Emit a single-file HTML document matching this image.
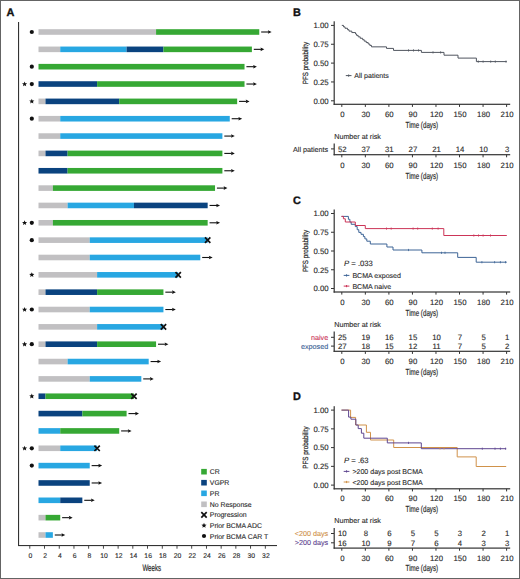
<!DOCTYPE html>
<html><head><meta charset="utf-8"><style>
html,body{margin:0;padding:0;background:#fff;}
body{width:520px;height:579px;overflow:hidden;}
svg{display:block;font-family:"Liberation Sans",sans-serif;text-rendering:geometricPrecision;}
</style></head><body>
<svg width="520" height="579" viewBox="0 0 520 579">
<rect width="520" height="579" fill="#fff"/>
<text x="6.4" y="15.8" font-size="10.9" font-weight="bold" fill="#111" stroke="#111" stroke-width="0.35">A</text>
<rect x="18" y="22" width="1.1" height="524" fill="#333333"/>
<rect x="18" y="545" width="259" height="1.1" fill="#333333"/>
<rect x="29.35" y="545.5" width="0.9" height="3.2" fill="#333333"/>
<text x="30.4" y="557.7" font-size="6.8" text-anchor="middle" fill="#2b2b2b" stroke="#2b2b2b" stroke-width="0.12">0</text>
<rect x="44.07" y="545.5" width="0.9" height="3.2" fill="#333333"/>
<text x="45.12" y="557.7" font-size="6.8" text-anchor="middle" fill="#2b2b2b" stroke="#2b2b2b" stroke-width="0.12">2</text>
<rect x="58.79" y="545.5" width="0.9" height="3.2" fill="#333333"/>
<text x="59.84" y="557.7" font-size="6.8" text-anchor="middle" fill="#2b2b2b" stroke="#2b2b2b" stroke-width="0.12">4</text>
<rect x="73.51" y="545.5" width="0.9" height="3.2" fill="#333333"/>
<text x="74.56" y="557.7" font-size="6.8" text-anchor="middle" fill="#2b2b2b" stroke="#2b2b2b" stroke-width="0.12">6</text>
<rect x="88.22" y="545.5" width="0.9" height="3.2" fill="#333333"/>
<text x="89.27" y="557.7" font-size="6.8" text-anchor="middle" fill="#2b2b2b" stroke="#2b2b2b" stroke-width="0.12">8</text>
<rect x="102.94" y="545.5" width="0.9" height="3.2" fill="#333333"/>
<text x="103.99" y="557.7" font-size="6.8" text-anchor="middle" fill="#2b2b2b" stroke="#2b2b2b" stroke-width="0.12">10</text>
<rect x="117.66" y="545.5" width="0.9" height="3.2" fill="#333333"/>
<text x="118.71" y="557.7" font-size="6.8" text-anchor="middle" fill="#2b2b2b" stroke="#2b2b2b" stroke-width="0.12">12</text>
<rect x="132.38" y="545.5" width="0.9" height="3.2" fill="#333333"/>
<text x="133.43" y="557.7" font-size="6.8" text-anchor="middle" fill="#2b2b2b" stroke="#2b2b2b" stroke-width="0.12">14</text>
<rect x="147.1" y="545.5" width="0.9" height="3.2" fill="#333333"/>
<text x="148.15" y="557.7" font-size="6.8" text-anchor="middle" fill="#2b2b2b" stroke="#2b2b2b" stroke-width="0.12">16</text>
<rect x="161.82" y="545.5" width="0.9" height="3.2" fill="#333333"/>
<text x="162.87" y="557.7" font-size="6.8" text-anchor="middle" fill="#2b2b2b" stroke="#2b2b2b" stroke-width="0.12">18</text>
<rect x="176.54" y="545.5" width="0.9" height="3.2" fill="#333333"/>
<text x="177.59" y="557.7" font-size="6.8" text-anchor="middle" fill="#2b2b2b" stroke="#2b2b2b" stroke-width="0.12">20</text>
<rect x="191.26" y="545.5" width="0.9" height="3.2" fill="#333333"/>
<text x="192.31" y="557.7" font-size="6.8" text-anchor="middle" fill="#2b2b2b" stroke="#2b2b2b" stroke-width="0.12">22</text>
<rect x="205.98" y="545.5" width="0.9" height="3.2" fill="#333333"/>
<text x="207.03" y="557.7" font-size="6.8" text-anchor="middle" fill="#2b2b2b" stroke="#2b2b2b" stroke-width="0.12">24</text>
<rect x="220.69" y="545.5" width="0.9" height="3.2" fill="#333333"/>
<text x="221.74" y="557.7" font-size="6.8" text-anchor="middle" fill="#2b2b2b" stroke="#2b2b2b" stroke-width="0.12">26</text>
<rect x="235.41" y="545.5" width="0.9" height="3.2" fill="#333333"/>
<text x="236.46" y="557.7" font-size="6.8" text-anchor="middle" fill="#2b2b2b" stroke="#2b2b2b" stroke-width="0.12">28</text>
<rect x="250.13" y="545.5" width="0.9" height="3.2" fill="#333333"/>
<text x="251.18" y="557.7" font-size="6.8" text-anchor="middle" fill="#2b2b2b" stroke="#2b2b2b" stroke-width="0.12">30</text>
<rect x="264.85" y="545.5" width="0.9" height="3.2" fill="#333333"/>
<text x="265.9" y="557.7" font-size="6.8" text-anchor="middle" fill="#2b2b2b" stroke="#2b2b2b" stroke-width="0.12">32</text>
<text x="0" y="0" font-size="9.4" fill="#2b2b2b" stroke="#2b2b2b" stroke-width="0.2" transform="translate(142.4 570.6) scale(0.655 1)">Weeks</text>
<rect x="38.5" y="29.2" width="117.57" height="5.6" fill="#c1c0c2"/>
<rect x="156.07" y="29.2" width="103.19" height="5.6" fill="#36a834"/>
<path d="M261.16 32H268.66" stroke="#111" stroke-width="1.1"/><path d="M267.86 30.2L271.66 32L267.86 33.8L268.46 32Z" fill="#111"/>
<circle cx="31.8" cy="32" r="2.1" fill="#111"/>
<rect x="38.5" y="46.55" width="21.74" height="5.6" fill="#c1c0c2"/>
<rect x="60.24" y="46.55" width="66.34" height="5.6" fill="#28a7e2"/>
<rect x="126.58" y="46.55" width="36.86" height="5.6" fill="#0a437f"/>
<rect x="163.44" y="46.55" width="88.45" height="5.6" fill="#36a834"/>
<path d="M253.79 49.34H261.29" stroke="#111" stroke-width="1.1"/><path d="M260.49 47.55L264.29 49.34L260.49 51.14L261.09 49.34Z" fill="#111"/>
<rect x="38.5" y="63.89" width="206.02" height="5.6" fill="#36a834"/>
<path d="M246.42 66.69H253.92" stroke="#111" stroke-width="1.1"/><path d="M253.12 64.89L256.92 66.69L253.12 68.49L253.72 66.69Z" fill="#111"/>
<circle cx="31.8" cy="66.69" r="2.1" fill="#111"/>
<rect x="38.5" y="81.23" width="58.6" height="5.6" fill="#0a437f"/>
<rect x="97.1" y="81.23" width="147.42" height="5.6" fill="#36a834"/>
<path d="M246.42 84.03H253.92" stroke="#111" stroke-width="1.1"/><path d="M253.12 82.23L256.92 84.03L253.12 85.83L253.72 84.03Z" fill="#111"/>
<polygon points="24.6,81.43 25.31,83.15 27.17,83.3 25.76,84.51 26.19,86.32 24.6,85.35 23.01,86.32 23.44,84.51 22.03,83.3 23.89,83.15" fill="#111"/>
<circle cx="31.8" cy="84.03" r="2.1" fill="#111"/>
<rect x="38.5" y="98.58" width="7" height="5.6" fill="#c1c0c2"/>
<rect x="45.5" y="98.58" width="73.71" height="5.6" fill="#0a437f"/>
<rect x="119.21" y="98.58" width="117.94" height="5.6" fill="#36a834"/>
<path d="M239.05 101.38H246.55" stroke="#111" stroke-width="1.1"/><path d="M245.75 99.58L249.55 101.38L245.75 103.18L246.35 101.38Z" fill="#111"/>
<polygon points="31.8,98.68 32.51,100.4 34.37,100.55 32.96,101.76 33.39,103.56 31.8,102.59 30.21,103.56 30.64,101.76 29.23,100.55 31.09,100.4" fill="#111"/>
<rect x="38.5" y="115.92" width="21.74" height="5.6" fill="#c1c0c2"/>
<rect x="60.24" y="115.92" width="169.53" height="5.6" fill="#28a7e2"/>
<path d="M231.68 118.72H239.18" stroke="#111" stroke-width="1.1"/><path d="M238.38 116.92L242.18 118.72L238.38 120.52L238.98 118.72Z" fill="#111"/>
<circle cx="31.8" cy="118.72" r="2.1" fill="#111"/>
<rect x="38.5" y="133.27" width="21.74" height="5.6" fill="#c1c0c2"/>
<rect x="60.24" y="133.27" width="162.16" height="5.6" fill="#28a7e2"/>
<path d="M224.31 136.07H231.81" stroke="#111" stroke-width="1.1"/><path d="M231 134.27L234.81 136.07L231 137.87L231.61 136.07Z" fill="#111"/>
<rect x="38.5" y="150.61" width="7" height="5.6" fill="#c1c0c2"/>
<rect x="45.5" y="150.61" width="22.11" height="5.6" fill="#0a437f"/>
<rect x="67.61" y="150.61" width="154.79" height="5.6" fill="#36a834"/>
<path d="M224.31 153.41H231.81" stroke="#111" stroke-width="1.1"/><path d="M231 151.61L234.81 153.41L231 155.22L231.61 153.41Z" fill="#111"/>
<rect x="38.5" y="167.96" width="29.11" height="5.6" fill="#0a437f"/>
<rect x="67.61" y="167.96" width="154.79" height="5.6" fill="#36a834"/>
<path d="M224.31 170.76H231.81" stroke="#111" stroke-width="1.1"/><path d="M231 168.96L234.81 170.76L231 172.56L231.61 170.76Z" fill="#111"/>
<rect x="38.5" y="185.3" width="14.37" height="5.6" fill="#c1c0c2"/>
<rect x="52.87" y="185.3" width="162.16" height="5.6" fill="#36a834"/>
<path d="M216.93 188.1H224.43" stroke="#111" stroke-width="1.1"/><path d="M223.63 186.3L227.43 188.1L223.63 189.91L224.23 188.1Z" fill="#111"/>
<rect x="38.5" y="202.65" width="29.11" height="5.6" fill="#c1c0c2"/>
<rect x="67.61" y="202.65" width="66.34" height="5.6" fill="#28a7e2"/>
<rect x="133.95" y="202.65" width="73.71" height="5.6" fill="#0a437f"/>
<path d="M209.56 205.45H217.06" stroke="#111" stroke-width="1.1"/><path d="M216.26 203.65L220.06 205.45L216.26 207.25L216.86 205.45Z" fill="#111"/>
<rect x="38.5" y="219.99" width="14.37" height="5.6" fill="#c1c0c2"/>
<rect x="52.87" y="219.99" width="154.79" height="5.6" fill="#36a834"/>
<path d="M209.56 222.79H217.06" stroke="#111" stroke-width="1.1"/><path d="M216.26 220.99L220.06 222.79L216.26 224.59L216.86 222.79Z" fill="#111"/>
<polygon points="24.6,220.19 25.31,221.91 27.17,222.06 25.76,223.27 26.19,225.08 24.6,224.11 23.01,225.08 23.44,223.27 22.03,222.06 23.89,221.91" fill="#111"/>
<circle cx="31.8" cy="222.79" r="2.1" fill="#111"/>
<rect x="38.5" y="237.34" width="51.23" height="5.6" fill="#c1c0c2"/>
<rect x="89.73" y="237.34" width="117.94" height="5.6" fill="#28a7e2"/>
<path d="M204.96 237.44L210.36 242.84M204.96 242.84L210.36 237.44" stroke="#111" stroke-width="1.7" fill="none"/>
<circle cx="31.8" cy="240.14" r="2.1" fill="#111"/>
<rect x="38.5" y="254.69" width="51.23" height="5.6" fill="#c1c0c2"/>
<rect x="89.73" y="254.69" width="110.56" height="5.6" fill="#28a7e2"/>
<path d="M202.19 257.49H209.69" stroke="#111" stroke-width="1.1"/><path d="M208.89 255.69L212.69 257.49L208.89 259.29L209.49 257.49Z" fill="#111"/>
<rect x="38.5" y="272.03" width="58.6" height="5.6" fill="#c1c0c2"/>
<rect x="97.1" y="272.03" width="81.08" height="5.6" fill="#28a7e2"/>
<path d="M175.48 272.13L180.88 277.53M175.48 277.53L180.88 272.13" stroke="#111" stroke-width="1.7" fill="none"/>
<polygon points="31.8,272.13 32.51,273.85 34.37,274 32.96,275.21 33.39,277.01 31.8,276.04 30.21,277.01 30.64,275.21 29.23,274 31.09,273.85" fill="#111"/>
<rect x="38.5" y="289.37" width="7" height="5.6" fill="#c1c0c2"/>
<rect x="45.5" y="289.37" width="51.6" height="5.6" fill="#0a437f"/>
<rect x="97.1" y="289.37" width="66.34" height="5.6" fill="#36a834"/>
<path d="M165.34 292.17H172.84" stroke="#111" stroke-width="1.1"/><path d="M172.04 290.37L175.84 292.17L172.04 293.97L172.64 292.17Z" fill="#111"/>
<rect x="38.5" y="306.72" width="51.23" height="5.6" fill="#c1c0c2"/>
<rect x="89.73" y="306.72" width="73.71" height="5.6" fill="#28a7e2"/>
<path d="M165.34 309.52H172.84" stroke="#111" stroke-width="1.1"/><path d="M172.04 307.72L175.84 309.52L172.04 311.32L172.64 309.52Z" fill="#111"/>
<polygon points="24.6,306.92 25.31,308.64 27.17,308.79 25.76,310 26.19,311.8 24.6,310.83 23.01,311.8 23.44,310 22.03,308.79 23.89,308.64" fill="#111"/>
<circle cx="31.8" cy="309.52" r="2.1" fill="#111"/>
<rect x="38.5" y="324.06" width="58.6" height="5.6" fill="#c1c0c2"/>
<rect x="97.1" y="324.06" width="66.34" height="5.6" fill="#28a7e2"/>
<path d="M160.74 324.17L166.14 329.56M160.74 329.56L166.14 324.17" stroke="#111" stroke-width="1.7" fill="none"/>
<rect x="38.5" y="341.41" width="7" height="5.6" fill="#c1c0c2"/>
<rect x="45.5" y="341.41" width="51.6" height="5.6" fill="#0a437f"/>
<rect x="97.1" y="341.41" width="58.97" height="5.6" fill="#36a834"/>
<path d="M157.97 344.21H165.47" stroke="#111" stroke-width="1.1"/><path d="M164.67 342.41L168.47 344.21L164.67 346.01L165.27 344.21Z" fill="#111"/>
<polygon points="24.6,341.61 25.31,343.33 27.17,343.48 25.76,344.69 26.19,346.49 24.6,345.52 23.01,346.49 23.44,344.69 22.03,343.48 23.89,343.33" fill="#111"/>
<circle cx="31.8" cy="344.21" r="2.1" fill="#111"/>
<rect x="38.5" y="358.75" width="29.11" height="5.6" fill="#c1c0c2"/>
<rect x="67.61" y="358.75" width="81.08" height="5.6" fill="#28a7e2"/>
<path d="M150.6 361.55H158.1" stroke="#111" stroke-width="1.1"/><path d="M157.3 359.75L161.1 361.55L157.3 363.35L157.9 361.55Z" fill="#111"/>
<rect x="38.5" y="376.1" width="51.23" height="5.6" fill="#c1c0c2"/>
<rect x="89.73" y="376.1" width="51.6" height="5.6" fill="#28a7e2"/>
<path d="M143.22 378.9H150.72" stroke="#111" stroke-width="1.1"/><path d="M149.92 377.1L153.72 378.9L149.92 380.7L150.52 378.9Z" fill="#111"/>
<rect x="38.5" y="393.44" width="7" height="5.6" fill="#0a437f"/>
<rect x="45.5" y="393.44" width="88.45" height="5.6" fill="#36a834"/>
<path d="M131.25 393.55L136.65 398.94M131.25 398.94L136.65 393.55" stroke="#111" stroke-width="1.7" fill="none"/>
<polygon points="31.8,393.55 32.51,395.26 34.37,395.41 32.96,396.62 33.39,398.43 31.8,397.46 30.21,398.43 30.64,396.62 29.23,395.41 31.09,395.26" fill="#111"/>
<rect x="38.5" y="410.79" width="43.86" height="5.6" fill="#0a437f"/>
<rect x="82.36" y="410.79" width="44.23" height="5.6" fill="#36a834"/>
<path d="M128.48 413.59H135.98" stroke="#111" stroke-width="1.1"/><path d="M135.18 411.79L138.98 413.59L135.18 415.39L135.78 413.59Z" fill="#111"/>
<rect x="38.5" y="428.13" width="21.74" height="5.6" fill="#28a7e2"/>
<rect x="60.24" y="428.13" width="58.97" height="5.6" fill="#36a834"/>
<path d="M121.11 430.93H128.61" stroke="#111" stroke-width="1.1"/><path d="M127.81 429.13L131.61 430.93L127.81 432.73L128.41 430.93Z" fill="#111"/>
<rect x="38.5" y="445.48" width="21.74" height="5.6" fill="#c1c0c2"/>
<rect x="60.24" y="445.48" width="36.86" height="5.6" fill="#28a7e2"/>
<path d="M94.4 445.58L99.8 450.98M94.4 450.98L99.8 445.58" stroke="#111" stroke-width="1.7" fill="none"/>
<polygon points="24.6,445.68 25.31,447.4 27.17,447.55 25.76,448.76 26.19,450.56 24.6,449.59 23.01,450.56 23.44,448.76 22.03,447.55 23.89,447.4" fill="#111"/>
<circle cx="31.8" cy="448.28" r="2.1" fill="#111"/>
<rect x="38.5" y="462.82" width="51.23" height="5.6" fill="#28a7e2"/>
<path d="M91.63 465.62H99.13" stroke="#111" stroke-width="1.1"/><path d="M98.33 463.82L102.13 465.62L98.33 467.43L98.93 465.62Z" fill="#111"/>
<circle cx="31.8" cy="465.62" r="2.1" fill="#111"/>
<rect x="38.5" y="480.17" width="51.23" height="5.6" fill="#0a437f"/>
<path d="M91.63 482.97H99.13" stroke="#111" stroke-width="1.1"/><path d="M98.33 481.17L102.13 482.97L98.33 484.77L98.93 482.97Z" fill="#111"/>
<rect x="38.5" y="497.51" width="21.74" height="5.6" fill="#28a7e2"/>
<rect x="60.24" y="497.51" width="22.11" height="5.6" fill="#0a437f"/>
<path d="M84.26 500.31H91.76" stroke="#111" stroke-width="1.1"/><path d="M90.96 498.51L94.76 500.31L90.96 502.11L91.56 500.31Z" fill="#111"/>
<rect x="38.5" y="514.86" width="7" height="5.6" fill="#c1c0c2"/>
<rect x="45.5" y="514.86" width="14.74" height="5.6" fill="#36a834"/>
<path d="M62.14 517.66H69.64" stroke="#111" stroke-width="1.1"/><path d="M68.84 515.86L72.64 517.66L68.84 519.46L69.44 517.66Z" fill="#111"/>
<rect x="38.5" y="532.21" width="7" height="5.6" fill="#c1c0c2"/>
<rect x="45.5" y="532.21" width="7.37" height="5.6" fill="#28a7e2"/>
<path d="M54.77 535H62.27" stroke="#111" stroke-width="1.1"/><path d="M61.47 533.21L65.27 535L61.47 536.8L62.07 535Z" fill="#111"/>
<rect x="201.2" y="468.9" width="5.6" height="5.6" fill="#36a834"/>
<text x="209.8" y="474.2" font-size="6.9" fill="#2b2b2b" stroke="#2b2b2b" stroke-width="0.12">CR</text>
<rect x="201.2" y="479.9" width="5.6" height="5.6" fill="#0a437f"/>
<text x="209.8" y="485.2" font-size="6.9" fill="#2b2b2b" stroke="#2b2b2b" stroke-width="0.12">VGPR</text>
<rect x="201.2" y="490.5" width="5.6" height="5.6" fill="#28a7e2"/>
<text x="209.8" y="495.8" font-size="6.9" fill="#2b2b2b" stroke="#2b2b2b" stroke-width="0.12">PR</text>
<rect x="201.2" y="501.5" width="5.6" height="5.6" fill="#c1c0c2"/>
<text x="209.8" y="506.8" font-size="6.9" fill="#2b2b2b" stroke="#2b2b2b" stroke-width="0.12">No Response</text>
<path d="M201.3 512.2L206.7 517.6M201.3 517.6L206.7 512.2" stroke="#111" stroke-width="1.7" fill="none"/>
<text x="209.8" y="517.4" font-size="6.9" fill="#2b2b2b" stroke="#2b2b2b" stroke-width="0.12">Progression</text>
<polygon points="204,522.8 204.71,524.52 206.57,524.67 205.16,525.88 205.59,527.68 204,526.72 202.41,527.68 202.84,525.88 201.43,524.67 203.29,524.52" fill="#111"/>
<text x="209.8" y="528" font-size="6.9" fill="#2b2b2b" stroke="#2b2b2b" stroke-width="0.12">Prior BCMA ADC</text>
<circle cx="204" cy="536" r="2.1" fill="#111"/>
<text x="209.8" y="538.5" font-size="6.9" fill="#2b2b2b" stroke="#2b2b2b" stroke-width="0.12">Prior BCMA CAR T</text>
<text x="293.0" y="15.8" font-size="10.9" font-weight="bold" fill="#111" stroke="#111" stroke-width="0.35">B</text>
<rect x="333.6" y="21.3" width="1.2" height="83.6" fill="#333333"/>
<rect x="333.6" y="103.7" width="176.6" height="1.2" fill="#333333"/>
<rect x="331" y="24.9" width="3" height="1" fill="#333333"/>
<text x="328.6" y="28.2" font-size="7.8" text-anchor="end" fill="#2b2b2b" stroke="#2b2b2b" stroke-width="0.12">1.00</text>
<rect x="331" y="43.75" width="3" height="1" fill="#333333"/>
<text x="328.6" y="47.05" font-size="7.8" text-anchor="end" fill="#2b2b2b" stroke="#2b2b2b" stroke-width="0.12">0.75</text>
<rect x="331" y="62.6" width="3" height="1" fill="#333333"/>
<text x="328.6" y="65.9" font-size="7.8" text-anchor="end" fill="#2b2b2b" stroke="#2b2b2b" stroke-width="0.12">0.50</text>
<rect x="331" y="81.45" width="3" height="1" fill="#333333"/>
<text x="328.6" y="84.75" font-size="7.8" text-anchor="end" fill="#2b2b2b" stroke="#2b2b2b" stroke-width="0.12">0.25</text>
<rect x="331" y="100.3" width="3" height="1" fill="#333333"/>
<text x="328.6" y="103.6" font-size="7.8" text-anchor="end" fill="#2b2b2b" stroke="#2b2b2b" stroke-width="0.12">0.00</text>
<text x="0" y="0" font-size="7.5" text-anchor="middle" fill="#2b2b2b" stroke="#2b2b2b" stroke-width="0.22" transform="translate(307.6 63.1) rotate(-90) scale(0.83 1)">PFS probability</text>
<rect x="341.3" y="104.3" width="1" height="2.6" fill="#333333"/>
<text x="342.3" y="116.7" font-size="7.8" text-anchor="middle" fill="#2b2b2b" stroke="#2b2b2b" stroke-width="0.12">0</text>
<rect x="364.84" y="104.3" width="1" height="2.6" fill="#333333"/>
<text x="365.84" y="116.7" font-size="7.8" text-anchor="middle" fill="#2b2b2b" stroke="#2b2b2b" stroke-width="0.12">30</text>
<rect x="388.39" y="104.3" width="1" height="2.6" fill="#333333"/>
<text x="389.39" y="116.7" font-size="7.8" text-anchor="middle" fill="#2b2b2b" stroke="#2b2b2b" stroke-width="0.12">60</text>
<rect x="411.93" y="104.3" width="1" height="2.6" fill="#333333"/>
<text x="412.93" y="116.7" font-size="7.8" text-anchor="middle" fill="#2b2b2b" stroke="#2b2b2b" stroke-width="0.12">90</text>
<rect x="435.47" y="104.3" width="1" height="2.6" fill="#333333"/>
<text x="436.47" y="116.7" font-size="7.8" text-anchor="middle" fill="#2b2b2b" stroke="#2b2b2b" stroke-width="0.12">120</text>
<rect x="459.01" y="104.3" width="1" height="2.6" fill="#333333"/>
<text x="460.01" y="116.7" font-size="7.8" text-anchor="middle" fill="#2b2b2b" stroke="#2b2b2b" stroke-width="0.12">150</text>
<rect x="482.56" y="104.3" width="1" height="2.6" fill="#333333"/>
<text x="483.56" y="116.7" font-size="7.8" text-anchor="middle" fill="#2b2b2b" stroke="#2b2b2b" stroke-width="0.12">180</text>
<rect x="506.1" y="104.3" width="1" height="2.6" fill="#333333"/>
<text x="507.1" y="116.7" font-size="7.8" text-anchor="middle" fill="#2b2b2b" stroke="#2b2b2b" stroke-width="0.12">210</text>
<text x="0" y="0" font-size="8.8" fill="#2b2b2b" stroke="#2b2b2b" stroke-width="0.2" transform="translate(405.6 127.9) scale(0.705 1)">Time (days)</text>
<text x="334.2" y="139.1" font-size="7.2" fill="#2b2b2b" stroke="#2b2b2b" stroke-width="0.12">Number at risk</text>
<rect x="333.6" y="143.5" width="1.2" height="11.8" fill="#333333"/>
<rect x="333.6" y="154.1" width="176.6" height="1.2" fill="#333333"/>
<rect x="331" y="148.4" width="3" height="1" fill="#333333"/>
<text x="328.2" y="151.5" font-size="7.2" text-anchor="end" fill="#2b2b2b" stroke="#2b2b2b" stroke-width="0.12">All patients</text>
<text x="342.3" y="151.7" font-size="7.8" text-anchor="middle" fill="#2b2b2b" stroke="#2b2b2b" stroke-width="0.12">52</text>
<text x="365.84" y="151.7" font-size="7.8" text-anchor="middle" fill="#2b2b2b" stroke="#2b2b2b" stroke-width="0.12">37</text>
<text x="389.39" y="151.7" font-size="7.8" text-anchor="middle" fill="#2b2b2b" stroke="#2b2b2b" stroke-width="0.12">31</text>
<text x="412.93" y="151.7" font-size="7.8" text-anchor="middle" fill="#2b2b2b" stroke="#2b2b2b" stroke-width="0.12">27</text>
<text x="436.47" y="151.7" font-size="7.8" text-anchor="middle" fill="#2b2b2b" stroke="#2b2b2b" stroke-width="0.12">21</text>
<text x="460.01" y="151.7" font-size="7.8" text-anchor="middle" fill="#2b2b2b" stroke="#2b2b2b" stroke-width="0.12">14</text>
<text x="483.56" y="151.7" font-size="7.8" text-anchor="middle" fill="#2b2b2b" stroke="#2b2b2b" stroke-width="0.12">10</text>
<text x="507.1" y="151.7" font-size="7.8" text-anchor="middle" fill="#2b2b2b" stroke="#2b2b2b" stroke-width="0.12">3</text>
<rect x="341.3" y="154.7" width="1" height="2.6" fill="#333333"/>
<text x="342.3" y="167.5" font-size="7.8" text-anchor="middle" fill="#2b2b2b" stroke="#2b2b2b" stroke-width="0.12">0</text>
<rect x="364.84" y="154.7" width="1" height="2.6" fill="#333333"/>
<text x="365.84" y="167.5" font-size="7.8" text-anchor="middle" fill="#2b2b2b" stroke="#2b2b2b" stroke-width="0.12">30</text>
<rect x="388.39" y="154.7" width="1" height="2.6" fill="#333333"/>
<text x="389.39" y="167.5" font-size="7.8" text-anchor="middle" fill="#2b2b2b" stroke="#2b2b2b" stroke-width="0.12">60</text>
<rect x="411.93" y="154.7" width="1" height="2.6" fill="#333333"/>
<text x="412.93" y="167.5" font-size="7.8" text-anchor="middle" fill="#2b2b2b" stroke="#2b2b2b" stroke-width="0.12">90</text>
<rect x="435.47" y="154.7" width="1" height="2.6" fill="#333333"/>
<text x="436.47" y="167.5" font-size="7.8" text-anchor="middle" fill="#2b2b2b" stroke="#2b2b2b" stroke-width="0.12">120</text>
<rect x="459.01" y="154.7" width="1" height="2.6" fill="#333333"/>
<text x="460.01" y="167.5" font-size="7.8" text-anchor="middle" fill="#2b2b2b" stroke="#2b2b2b" stroke-width="0.12">150</text>
<rect x="482.56" y="154.7" width="1" height="2.6" fill="#333333"/>
<text x="483.56" y="167.5" font-size="7.8" text-anchor="middle" fill="#2b2b2b" stroke="#2b2b2b" stroke-width="0.12">180</text>
<rect x="506.1" y="154.7" width="1" height="2.6" fill="#333333"/>
<text x="507.1" y="167.5" font-size="7.8" text-anchor="middle" fill="#2b2b2b" stroke="#2b2b2b" stroke-width="0.12">210</text>
<text x="0" y="0" font-size="8.8" fill="#2b2b2b" stroke="#2b2b2b" stroke-width="0.2" transform="translate(405.6 178.5) scale(0.705 1)">Time (days)</text>
<path d="M341.8 25.4H343.5V26.83H345V28.26H347.5V29.69H349V31.12H351.8V32.55H355.5V33.98H356.6V35.41H358.2V36.84H360.2V38.27H362.6V39.7H364.2V41.13H366.2V42.56H368.2V43.99H369.8V45.42H371.5V46.85H386.5V48.4H393.5V50.4H421.4V52.4H444V55.2H458V58.1H476.4V61.6H506.8V61.6" stroke="#50555f" stroke-width="1.0" fill="none" stroke-linejoin="miter"/>

<path d="M408.5 49.3v2.2" stroke="#50555f" stroke-width="0.8"/>
<path d="M413.5 49.3v2.2" stroke="#50555f" stroke-width="0.8"/>
<path d="M418.5 49.3v2.2" stroke="#50555f" stroke-width="0.8"/>
<path d="M433 51.3v2.2" stroke="#50555f" stroke-width="0.8"/>
<path d="M440.6 51.3v2.2" stroke="#50555f" stroke-width="0.8"/>
<path d="M478.3 60.5v2.2" stroke="#50555f" stroke-width="0.8"/>
<path d="M483.1 60.5v2.2" stroke="#50555f" stroke-width="0.8"/>
<path d="M490.7 60.5v2.2" stroke="#50555f" stroke-width="0.8"/>
<path d="M495.3 60.5v2.2" stroke="#50555f" stroke-width="0.8"/>
<path d="M506 60.5v2.2" stroke="#50555f" stroke-width="0.8"/>
<path d="M345.8 75.6H351.5M348.65 74.5V76.7" stroke="#50555f" stroke-width="1"/>
<text x="354.3" y="78.2" font-size="7.05" fill="#2b2b2b" stroke="#2b2b2b" stroke-width="0.12">All patients</text>
<text x="293.0" y="203.6" font-size="10.9" font-weight="bold" fill="#111" stroke="#111" stroke-width="0.35">C</text>
<rect x="333.6" y="209.5" width="1.2" height="83.1" fill="#333333"/>
<rect x="333.6" y="291.4" width="176.6" height="1.2" fill="#333333"/>
<rect x="331" y="213" width="3" height="1" fill="#333333"/>
<text x="328.6" y="216.3" font-size="7.8" text-anchor="end" fill="#2b2b2b" stroke="#2b2b2b" stroke-width="0.12">1.00</text>
<rect x="331" y="231.75" width="3" height="1" fill="#333333"/>
<text x="328.6" y="235.05" font-size="7.8" text-anchor="end" fill="#2b2b2b" stroke="#2b2b2b" stroke-width="0.12">0.75</text>
<rect x="331" y="250.5" width="3" height="1" fill="#333333"/>
<text x="328.6" y="253.8" font-size="7.8" text-anchor="end" fill="#2b2b2b" stroke="#2b2b2b" stroke-width="0.12">0.50</text>
<rect x="331" y="269.25" width="3" height="1" fill="#333333"/>
<text x="328.6" y="272.55" font-size="7.8" text-anchor="end" fill="#2b2b2b" stroke="#2b2b2b" stroke-width="0.12">0.25</text>
<rect x="331" y="288" width="3" height="1" fill="#333333"/>
<text x="328.6" y="291.3" font-size="7.8" text-anchor="end" fill="#2b2b2b" stroke="#2b2b2b" stroke-width="0.12">0.00</text>
<text x="0" y="0" font-size="7.5" text-anchor="middle" fill="#2b2b2b" stroke="#2b2b2b" stroke-width="0.22" transform="translate(307.6 251) rotate(-90) scale(0.83 1)">PFS probability</text>
<rect x="341.3" y="292" width="1" height="2.6" fill="#333333"/>
<text x="342.3" y="304.8" font-size="7.8" text-anchor="middle" fill="#2b2b2b" stroke="#2b2b2b" stroke-width="0.12">0</text>
<rect x="364.84" y="292" width="1" height="2.6" fill="#333333"/>
<text x="365.84" y="304.8" font-size="7.8" text-anchor="middle" fill="#2b2b2b" stroke="#2b2b2b" stroke-width="0.12">30</text>
<rect x="388.39" y="292" width="1" height="2.6" fill="#333333"/>
<text x="389.39" y="304.8" font-size="7.8" text-anchor="middle" fill="#2b2b2b" stroke="#2b2b2b" stroke-width="0.12">60</text>
<rect x="411.93" y="292" width="1" height="2.6" fill="#333333"/>
<text x="412.93" y="304.8" font-size="7.8" text-anchor="middle" fill="#2b2b2b" stroke="#2b2b2b" stroke-width="0.12">90</text>
<rect x="435.47" y="292" width="1" height="2.6" fill="#333333"/>
<text x="436.47" y="304.8" font-size="7.8" text-anchor="middle" fill="#2b2b2b" stroke="#2b2b2b" stroke-width="0.12">120</text>
<rect x="459.01" y="292" width="1" height="2.6" fill="#333333"/>
<text x="460.01" y="304.8" font-size="7.8" text-anchor="middle" fill="#2b2b2b" stroke="#2b2b2b" stroke-width="0.12">150</text>
<rect x="482.56" y="292" width="1" height="2.6" fill="#333333"/>
<text x="483.56" y="304.8" font-size="7.8" text-anchor="middle" fill="#2b2b2b" stroke="#2b2b2b" stroke-width="0.12">180</text>
<rect x="506.1" y="292" width="1" height="2.6" fill="#333333"/>
<text x="507.1" y="304.8" font-size="7.8" text-anchor="middle" fill="#2b2b2b" stroke="#2b2b2b" stroke-width="0.12">210</text>
<text x="0" y="0" font-size="8.8" fill="#2b2b2b" stroke="#2b2b2b" stroke-width="0.2" transform="translate(405.6 316.3) scale(0.705 1)">Time (days)</text>
<text x="334.2" y="326.8" font-size="7.2" fill="#2b2b2b" stroke="#2b2b2b" stroke-width="0.12">Number at risk</text>
<rect x="333.6" y="331.5" width="1.2" height="20.4" fill="#333333"/>
<rect x="333.6" y="350.7" width="176.6" height="1.2" fill="#333333"/>
<rect x="331" y="336.8" width="3" height="1" fill="#333333"/>
<text x="328.2" y="339.9" font-size="7.2" text-anchor="end" fill="#cc3558" stroke="#cc3558" stroke-width="0.12">naive</text>
<text x="342.3" y="340.1" font-size="7.8" text-anchor="middle" fill="#2b2b2b" stroke="#2b2b2b" stroke-width="0.12">25</text>
<text x="365.84" y="340.1" font-size="7.8" text-anchor="middle" fill="#2b2b2b" stroke="#2b2b2b" stroke-width="0.12">19</text>
<text x="389.39" y="340.1" font-size="7.8" text-anchor="middle" fill="#2b2b2b" stroke="#2b2b2b" stroke-width="0.12">16</text>
<text x="412.93" y="340.1" font-size="7.8" text-anchor="middle" fill="#2b2b2b" stroke="#2b2b2b" stroke-width="0.12">15</text>
<text x="436.47" y="340.1" font-size="7.8" text-anchor="middle" fill="#2b2b2b" stroke="#2b2b2b" stroke-width="0.12">10</text>
<text x="460.01" y="340.1" font-size="7.8" text-anchor="middle" fill="#2b2b2b" stroke="#2b2b2b" stroke-width="0.12">7</text>
<text x="483.56" y="340.1" font-size="7.8" text-anchor="middle" fill="#2b2b2b" stroke="#2b2b2b" stroke-width="0.12">5</text>
<text x="507.1" y="340.1" font-size="7.8" text-anchor="middle" fill="#2b2b2b" stroke="#2b2b2b" stroke-width="0.12">1</text>
<rect x="331" y="345.6" width="3" height="1" fill="#333333"/>
<text x="328.2" y="348.7" font-size="7.2" text-anchor="end" fill="#3d6496" stroke="#3d6496" stroke-width="0.12">exposed</text>
<text x="342.3" y="348.9" font-size="7.8" text-anchor="middle" fill="#2b2b2b" stroke="#2b2b2b" stroke-width="0.12">27</text>
<text x="365.84" y="348.9" font-size="7.8" text-anchor="middle" fill="#2b2b2b" stroke="#2b2b2b" stroke-width="0.12">18</text>
<text x="389.39" y="348.9" font-size="7.8" text-anchor="middle" fill="#2b2b2b" stroke="#2b2b2b" stroke-width="0.12">15</text>
<text x="412.93" y="348.9" font-size="7.8" text-anchor="middle" fill="#2b2b2b" stroke="#2b2b2b" stroke-width="0.12">12</text>
<text x="436.47" y="348.9" font-size="7.8" text-anchor="middle" fill="#2b2b2b" stroke="#2b2b2b" stroke-width="0.12">11</text>
<text x="460.01" y="348.9" font-size="7.8" text-anchor="middle" fill="#2b2b2b" stroke="#2b2b2b" stroke-width="0.12">7</text>
<text x="483.56" y="348.9" font-size="7.8" text-anchor="middle" fill="#2b2b2b" stroke="#2b2b2b" stroke-width="0.12">5</text>
<text x="507.1" y="348.9" font-size="7.8" text-anchor="middle" fill="#2b2b2b" stroke="#2b2b2b" stroke-width="0.12">2</text>
<rect x="341.3" y="351.3" width="1" height="2.6" fill="#333333"/>
<text x="342.3" y="363.7" font-size="7.8" text-anchor="middle" fill="#2b2b2b" stroke="#2b2b2b" stroke-width="0.12">0</text>
<rect x="364.84" y="351.3" width="1" height="2.6" fill="#333333"/>
<text x="365.84" y="363.7" font-size="7.8" text-anchor="middle" fill="#2b2b2b" stroke="#2b2b2b" stroke-width="0.12">30</text>
<rect x="388.39" y="351.3" width="1" height="2.6" fill="#333333"/>
<text x="389.39" y="363.7" font-size="7.8" text-anchor="middle" fill="#2b2b2b" stroke="#2b2b2b" stroke-width="0.12">60</text>
<rect x="411.93" y="351.3" width="1" height="2.6" fill="#333333"/>
<text x="412.93" y="363.7" font-size="7.8" text-anchor="middle" fill="#2b2b2b" stroke="#2b2b2b" stroke-width="0.12">90</text>
<rect x="435.47" y="351.3" width="1" height="2.6" fill="#333333"/>
<text x="436.47" y="363.7" font-size="7.8" text-anchor="middle" fill="#2b2b2b" stroke="#2b2b2b" stroke-width="0.12">120</text>
<rect x="459.01" y="351.3" width="1" height="2.6" fill="#333333"/>
<text x="460.01" y="363.7" font-size="7.8" text-anchor="middle" fill="#2b2b2b" stroke="#2b2b2b" stroke-width="0.12">150</text>
<rect x="482.56" y="351.3" width="1" height="2.6" fill="#333333"/>
<text x="483.56" y="363.7" font-size="7.8" text-anchor="middle" fill="#2b2b2b" stroke="#2b2b2b" stroke-width="0.12">180</text>
<rect x="506.1" y="351.3" width="1" height="2.6" fill="#333333"/>
<text x="507.1" y="363.7" font-size="7.8" text-anchor="middle" fill="#2b2b2b" stroke="#2b2b2b" stroke-width="0.12">210</text>
<text x="0" y="0" font-size="8.8" fill="#2b2b2b" stroke="#2b2b2b" stroke-width="0.2" transform="translate(405.6 374.5) scale(0.705 1)">Time (days)</text>
<path d="M341.5 216.4H348.4V219.3H349.9V222H351.2V224.3H355.3V226.6H357.2V229.7H358.8V232.4H361V234.3H363.4V236.6H364.9V238.9H366.8V241.2H370.3V244H386.9V247H393V250H421.9V252.8H457.7V257.4H476.2V262.2H506.8V262.2" stroke="#3d6496" stroke-width="1.0" fill="none" stroke-linejoin="miter"/>
<path d="M341.5 216.4H343.4V218.8H345.3V222H355.3V225.5H365.3V228.6H443.8V235.5H506.8V235.5" stroke="#cc3558" stroke-width="1.0" fill="none" stroke-linejoin="miter"/>
<path d="M408.5 248.9v2.2" stroke="#3d6496" stroke-width="0.8"/>
<path d="M441.5 251.7v2.2" stroke="#3d6496" stroke-width="0.8"/>
<path d="M445 251.7v2.2" stroke="#3d6496" stroke-width="0.8"/>
<path d="M386.5 227.5v2.2" stroke="#cc3558" stroke-width="0.8"/>
<path d="M391.2 227.5v2.2" stroke="#cc3558" stroke-width="0.8"/>
<path d="M413.1 227.5v2.2" stroke="#cc3558" stroke-width="0.8"/>
<path d="M417.7 227.5v2.2" stroke="#cc3558" stroke-width="0.8"/>
<path d="M432.3 227.5v2.2" stroke="#cc3558" stroke-width="0.8"/>
<path d="M438.1 227.5v2.2" stroke="#cc3558" stroke-width="0.8"/>
<path d="M473.8 234.4v2.2" stroke="#cc3558" stroke-width="0.8"/>
<path d="M478.5 234.4v2.2" stroke="#cc3558" stroke-width="0.8"/>
<path d="M483.1 234.4v2.2" stroke="#cc3558" stroke-width="0.8"/>
<path d="M490.5 234.4v2.2" stroke="#cc3558" stroke-width="0.8"/>
<path d="M481.9 261.1v2.2" stroke="#3d6496" stroke-width="0.8"/>
<path d="M494.6 261.1v2.2" stroke="#3d6496" stroke-width="0.8"/>
<path d="M500.4 261.1v2.2" stroke="#3d6496" stroke-width="0.8"/>
<path d="M505.5 261.1v2.2" stroke="#3d6496" stroke-width="0.8"/>
<text x="344" y="266.3" font-size="7.7" fill="#2b2b2b" stroke="#2b2b2b" stroke-width="0.12"><tspan font-style="italic">P</tspan> = .033</text>
<path d="M343.7 275.4H349.4M346.55 274.3V276.5" stroke="#3d6496" stroke-width="1"/>
<text x="352.4" y="278.0" font-size="7.05" fill="#2b2b2b" stroke="#2b2b2b" stroke-width="0.12">BCMA exposed</text>
<path d="M343.7 286.1H349.4M346.55 285.0V287.2" stroke="#cc3558" stroke-width="1"/>
<text x="352.4" y="288.7" font-size="7.05" fill="#2b2b2b" stroke="#2b2b2b" stroke-width="0.12">BCMA naive</text>
<text x="293.0" y="400" font-size="10.9" font-weight="bold" fill="#111" stroke="#111" stroke-width="0.35">D</text>
<rect x="333.6" y="406.2" width="1.2" height="83.2" fill="#333333"/>
<rect x="333.6" y="488.2" width="176.6" height="1.2" fill="#333333"/>
<rect x="331" y="409.6" width="3" height="1" fill="#333333"/>
<text x="328.6" y="412.9" font-size="7.8" text-anchor="end" fill="#2b2b2b" stroke="#2b2b2b" stroke-width="0.12">1.00</text>
<rect x="331" y="428.35" width="3" height="1" fill="#333333"/>
<text x="328.6" y="431.65" font-size="7.8" text-anchor="end" fill="#2b2b2b" stroke="#2b2b2b" stroke-width="0.12">0.75</text>
<rect x="331" y="447.1" width="3" height="1" fill="#333333"/>
<text x="328.6" y="450.4" font-size="7.8" text-anchor="end" fill="#2b2b2b" stroke="#2b2b2b" stroke-width="0.12">0.50</text>
<rect x="331" y="465.85" width="3" height="1" fill="#333333"/>
<text x="328.6" y="469.15" font-size="7.8" text-anchor="end" fill="#2b2b2b" stroke="#2b2b2b" stroke-width="0.12">0.25</text>
<rect x="331" y="484.6" width="3" height="1" fill="#333333"/>
<text x="328.6" y="487.9" font-size="7.8" text-anchor="end" fill="#2b2b2b" stroke="#2b2b2b" stroke-width="0.12">0.00</text>
<text x="0" y="0" font-size="7.5" text-anchor="middle" fill="#2b2b2b" stroke="#2b2b2b" stroke-width="0.22" transform="translate(307.6 447.6) rotate(-90) scale(0.83 1)">PFS probability</text>
<rect x="341.3" y="488.8" width="1" height="2.6" fill="#333333"/>
<text x="342.3" y="501.3" font-size="7.8" text-anchor="middle" fill="#2b2b2b" stroke="#2b2b2b" stroke-width="0.12">0</text>
<rect x="364.84" y="488.8" width="1" height="2.6" fill="#333333"/>
<text x="365.84" y="501.3" font-size="7.8" text-anchor="middle" fill="#2b2b2b" stroke="#2b2b2b" stroke-width="0.12">30</text>
<rect x="388.39" y="488.8" width="1" height="2.6" fill="#333333"/>
<text x="389.39" y="501.3" font-size="7.8" text-anchor="middle" fill="#2b2b2b" stroke="#2b2b2b" stroke-width="0.12">60</text>
<rect x="411.93" y="488.8" width="1" height="2.6" fill="#333333"/>
<text x="412.93" y="501.3" font-size="7.8" text-anchor="middle" fill="#2b2b2b" stroke="#2b2b2b" stroke-width="0.12">90</text>
<rect x="435.47" y="488.8" width="1" height="2.6" fill="#333333"/>
<text x="436.47" y="501.3" font-size="7.8" text-anchor="middle" fill="#2b2b2b" stroke="#2b2b2b" stroke-width="0.12">120</text>
<rect x="459.01" y="488.8" width="1" height="2.6" fill="#333333"/>
<text x="460.01" y="501.3" font-size="7.8" text-anchor="middle" fill="#2b2b2b" stroke="#2b2b2b" stroke-width="0.12">150</text>
<rect x="482.56" y="488.8" width="1" height="2.6" fill="#333333"/>
<text x="483.56" y="501.3" font-size="7.8" text-anchor="middle" fill="#2b2b2b" stroke="#2b2b2b" stroke-width="0.12">180</text>
<rect x="506.1" y="488.8" width="1" height="2.6" fill="#333333"/>
<text x="507.1" y="501.3" font-size="7.8" text-anchor="middle" fill="#2b2b2b" stroke="#2b2b2b" stroke-width="0.12">210</text>
<text x="0" y="0" font-size="8.8" fill="#2b2b2b" stroke="#2b2b2b" stroke-width="0.2" transform="translate(405.6 512) scale(0.705 1)">Time (days)</text>
<text x="334.2" y="523" font-size="7.2" fill="#2b2b2b" stroke="#2b2b2b" stroke-width="0.12">Number at risk</text>
<rect x="333.6" y="528" width="1.2" height="20.7" fill="#333333"/>
<rect x="333.6" y="547.5" width="176.6" height="1.2" fill="#333333"/>
<rect x="331" y="533" width="3" height="1" fill="#333333"/>
<text x="328.2" y="536.1" font-size="7.2" text-anchor="end" fill="#d0924a" stroke="#d0924a" stroke-width="0.12">&lt;200 days</text>
<text x="342.3" y="536.3" font-size="7.8" text-anchor="middle" fill="#2b2b2b" stroke="#2b2b2b" stroke-width="0.12">10</text>
<text x="365.84" y="536.3" font-size="7.8" text-anchor="middle" fill="#2b2b2b" stroke="#2b2b2b" stroke-width="0.12">8</text>
<text x="389.39" y="536.3" font-size="7.8" text-anchor="middle" fill="#2b2b2b" stroke="#2b2b2b" stroke-width="0.12">6</text>
<text x="412.93" y="536.3" font-size="7.8" text-anchor="middle" fill="#2b2b2b" stroke="#2b2b2b" stroke-width="0.12">5</text>
<text x="436.47" y="536.3" font-size="7.8" text-anchor="middle" fill="#2b2b2b" stroke="#2b2b2b" stroke-width="0.12">5</text>
<text x="460.01" y="536.3" font-size="7.8" text-anchor="middle" fill="#2b2b2b" stroke="#2b2b2b" stroke-width="0.12">3</text>
<text x="483.56" y="536.3" font-size="7.8" text-anchor="middle" fill="#2b2b2b" stroke="#2b2b2b" stroke-width="0.12">2</text>
<text x="507.1" y="536.3" font-size="7.8" text-anchor="middle" fill="#2b2b2b" stroke="#2b2b2b" stroke-width="0.12">1</text>
<rect x="331" y="542.3" width="3" height="1" fill="#333333"/>
<text x="328.2" y="545.4" font-size="7.2" text-anchor="end" fill="#5e4690" stroke="#5e4690" stroke-width="0.12">&gt;200 days</text>
<text x="342.3" y="545.6" font-size="7.8" text-anchor="middle" fill="#2b2b2b" stroke="#2b2b2b" stroke-width="0.12">16</text>
<text x="365.84" y="545.6" font-size="7.8" text-anchor="middle" fill="#2b2b2b" stroke="#2b2b2b" stroke-width="0.12">10</text>
<text x="389.39" y="545.6" font-size="7.8" text-anchor="middle" fill="#2b2b2b" stroke="#2b2b2b" stroke-width="0.12">9</text>
<text x="412.93" y="545.6" font-size="7.8" text-anchor="middle" fill="#2b2b2b" stroke="#2b2b2b" stroke-width="0.12">7</text>
<text x="436.47" y="545.6" font-size="7.8" text-anchor="middle" fill="#2b2b2b" stroke="#2b2b2b" stroke-width="0.12">6</text>
<text x="460.01" y="545.6" font-size="7.8" text-anchor="middle" fill="#2b2b2b" stroke="#2b2b2b" stroke-width="0.12">4</text>
<text x="483.56" y="545.6" font-size="7.8" text-anchor="middle" fill="#2b2b2b" stroke="#2b2b2b" stroke-width="0.12">3</text>
<text x="507.1" y="545.6" font-size="7.8" text-anchor="middle" fill="#2b2b2b" stroke="#2b2b2b" stroke-width="0.12">3</text>
<rect x="341.3" y="548.1" width="1" height="2.6" fill="#333333"/>
<text x="342.3" y="560.7" font-size="7.8" text-anchor="middle" fill="#2b2b2b" stroke="#2b2b2b" stroke-width="0.12">0</text>
<rect x="364.84" y="548.1" width="1" height="2.6" fill="#333333"/>
<text x="365.84" y="560.7" font-size="7.8" text-anchor="middle" fill="#2b2b2b" stroke="#2b2b2b" stroke-width="0.12">30</text>
<rect x="388.39" y="548.1" width="1" height="2.6" fill="#333333"/>
<text x="389.39" y="560.7" font-size="7.8" text-anchor="middle" fill="#2b2b2b" stroke="#2b2b2b" stroke-width="0.12">60</text>
<rect x="411.93" y="548.1" width="1" height="2.6" fill="#333333"/>
<text x="412.93" y="560.7" font-size="7.8" text-anchor="middle" fill="#2b2b2b" stroke="#2b2b2b" stroke-width="0.12">90</text>
<rect x="435.47" y="548.1" width="1" height="2.6" fill="#333333"/>
<text x="436.47" y="560.7" font-size="7.8" text-anchor="middle" fill="#2b2b2b" stroke="#2b2b2b" stroke-width="0.12">120</text>
<rect x="459.01" y="548.1" width="1" height="2.6" fill="#333333"/>
<text x="460.01" y="560.7" font-size="7.8" text-anchor="middle" fill="#2b2b2b" stroke="#2b2b2b" stroke-width="0.12">150</text>
<rect x="482.56" y="548.1" width="1" height="2.6" fill="#333333"/>
<text x="483.56" y="560.7" font-size="7.8" text-anchor="middle" fill="#2b2b2b" stroke="#2b2b2b" stroke-width="0.12">180</text>
<rect x="506.1" y="548.1" width="1" height="2.6" fill="#333333"/>
<text x="507.1" y="560.7" font-size="7.8" text-anchor="middle" fill="#2b2b2b" stroke="#2b2b2b" stroke-width="0.12">210</text>
<text x="0" y="0" font-size="8.8" fill="#2b2b2b" stroke="#2b2b2b" stroke-width="0.2" transform="translate(405.6 571.2) scale(0.705 1)">Time (days)</text>
<path d="M341.5 410.1H350.6V417.4H355.6V425H366.4V432.3H370.5V440H393.7V447.5H457.2V456.9H476.2V466.5H506.2V466.5" stroke="#d0924a" stroke-width="1.0" fill="none" stroke-linejoin="miter"/>
<path d="M341.5 410.1H348.6V417.1H350.9V419.2H355.9V425H358.2V428.6H361.4V433.2H363.8V438.2H387.3V442.9H421.3V448.7H506.2V448.7" stroke="#5e4690" stroke-width="1.0" fill="none" stroke-linejoin="miter"/>
<path d="M408.5 441.8v2.2" stroke="#5e4690" stroke-width="0.8"/>
<path d="M482.3 447.6v2.2" stroke="#5e4690" stroke-width="0.8"/>
<path d="M495 447.6v2.2" stroke="#5e4690" stroke-width="0.8"/>
<path d="M500.4 447.6v2.2" stroke="#5e4690" stroke-width="0.8"/>
<path d="M505.6 447.6v2.2" stroke="#5e4690" stroke-width="0.8"/>
<path d="M440 447.3v2.2" stroke="#d0924a" stroke-width="0.8"/>
<path d="M444 447.3v2.2" stroke="#d0924a" stroke-width="0.8"/>
<text x="344" y="463.2" font-size="7.7" fill="#2b2b2b" stroke="#2b2b2b" stroke-width="0.12"><tspan font-style="italic">P</tspan> = .63</text>
<path d="M343.7 471.4H349.4M346.55 470.3V472.5" stroke="#5e4690" stroke-width="1"/>
<text x="352.4" y="474.0" font-size="7.05" fill="#2b2b2b" stroke="#2b2b2b" stroke-width="0.12">&gt;200 days post BCMA</text>
<path d="M343.7 482.0H349.4M346.55 480.9V483.1" stroke="#d0924a" stroke-width="1"/>
<text x="352.4" y="484.6" font-size="7.05" fill="#2b2b2b" stroke="#2b2b2b" stroke-width="0.12">&lt;200 days post BCMA</text>
<rect x="0.5" y="0.5" width="519" height="578" fill="none" stroke="#646464" stroke-width="1"/>
</svg>
</body></html>
